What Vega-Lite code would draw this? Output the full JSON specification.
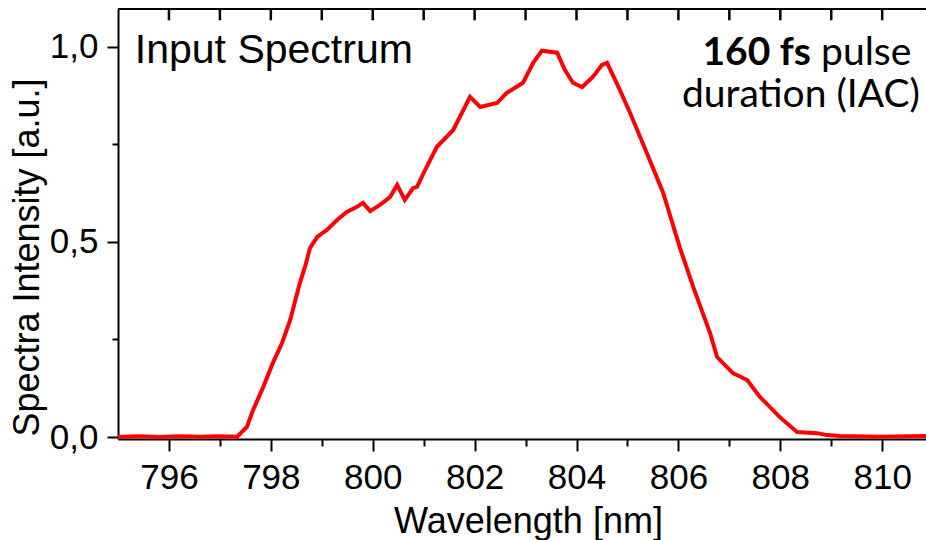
{
  "$schema": "https://vega.github.io/schema/vega-lite/v6.json",
  "autosize": "none",
  "width": 808,
  "height": 430,
  "padding": {"left": 118, "top": 9, "right": 0, "bottom": 101},
  "background": "white",
  "config": {"view": {"stroke": null}},
  "datasets": {
    "spectrum": [
      {"wl": 795.00, "I": 0.000}, {"wl": 795.40, "I": 0.002}, {"wl": 795.82, "I": 0.000},
      {"wl": 796.20, "I": 0.002}, {"wl": 796.61, "I": 0.001}, {"wl": 797.00, "I": 0.002},
      {"wl": 797.34, "I": 0.001}, {"wl": 797.53, "I": 0.026}, {"wl": 797.65, "I": 0.069},
      {"wl": 797.85, "I": 0.128}, {"wl": 798.04, "I": 0.190}, {"wl": 798.22, "I": 0.241},
      {"wl": 798.38, "I": 0.300}, {"wl": 798.57, "I": 0.395}, {"wl": 798.67, "I": 0.436},
      {"wl": 798.77, "I": 0.485}, {"wl": 798.91, "I": 0.513}, {"wl": 799.10, "I": 0.531},
      {"wl": 799.30, "I": 0.556}, {"wl": 799.49, "I": 0.577}, {"wl": 799.69, "I": 0.590},
      {"wl": 799.81, "I": 0.600}, {"wl": 799.95, "I": 0.579}, {"wl": 800.14, "I": 0.595},
      {"wl": 800.34, "I": 0.615}, {"wl": 800.48, "I": 0.646}, {"wl": 800.63, "I": 0.608},
      {"wl": 800.79, "I": 0.638}, {"wl": 800.87, "I": 0.641}, {"wl": 801.03, "I": 0.685},
      {"wl": 801.26, "I": 0.744}, {"wl": 801.58, "I": 0.787}, {"wl": 801.91, "I": 0.872},
      {"wl": 802.11, "I": 0.846}, {"wl": 802.44, "I": 0.856}, {"wl": 802.63, "I": 0.882},
      {"wl": 802.95, "I": 0.908}, {"wl": 803.15, "I": 0.959}, {"wl": 803.32, "I": 0.990},
      {"wl": 803.62, "I": 0.985}, {"wl": 803.77, "I": 0.941}, {"wl": 803.93, "I": 0.908},
      {"wl": 804.11, "I": 0.897}, {"wl": 804.32, "I": 0.923}, {"wl": 804.50, "I": 0.954},
      {"wl": 804.60, "I": 0.959}, {"wl": 804.85, "I": 0.890}, {"wl": 805.05, "I": 0.831},
      {"wl": 805.38, "I": 0.728}, {"wl": 805.70, "I": 0.626}, {"wl": 806.03, "I": 0.485},
      {"wl": 806.29, "I": 0.385}, {"wl": 806.62, "I": 0.267}, {"wl": 806.76, "I": 0.205},
      {"wl": 807.07, "I": 0.164}, {"wl": 807.35, "I": 0.146}, {"wl": 807.60, "I": 0.103},
      {"wl": 807.99, "I": 0.051}, {"wl": 808.33, "I": 0.013}, {"wl": 808.72, "I": 0.010},
      {"wl": 808.92, "I": 0.005}, {"wl": 809.17, "I": 0.003}, {"wl": 809.96, "I": 0.001},
      {"wl": 810.86, "I": 0.003}
    ],
    "topticks": [
      {"wl": 796}, {"wl": 797}, {"wl": 798}, {"wl": 799}, {"wl": 800}, {"wl": 801},
      {"wl": 802}, {"wl": 803}, {"wl": 804}, {"wl": 805}, {"wl": 806}, {"wl": 807},
      {"wl": 808}, {"wl": 809}, {"wl": 810}
    ],
    "labels": [
      {"wl": 795.33, "I": 0.959, "txt": "Input Spectrum"}
    ],
    "boldlab": [
      {"wl": 808.60, "I": 0.954, "txt": "160 fs"}
    ],
    "plainlab": [
      {"wl": 808.80, "I": 0.954, "txt": "pulse"}
    ],
    "rightlab": [
      {"wl": 810.74, "I": 0.846, "txt": "duration (IAC)"}
    ]
  },
  "layer": [
    {
      "data": {"name": "spectrum"},
      "mark": {"type": "line", "color": "#ff0000", "strokeWidth": 4, "clip": true},
      "encoding": {
        "x": {
          "field": "wl", "type": "quantitative",
          "scale": {"domain": [795, 810.86], "nice": false, "zero": false},
          "axis": {
            "orient": "bottom",
            "values": [796, 797, 798, 799, 800, 801, 802, 803, 804, 805, 806, 807, 808, 809, 810],
            "labelExpr": "datum.value % 2 == 0 ? datum.value : ''",
            "grid": false,
            "domainColor": "black", "domainWidth": 2,
            "tickColor": "black", "tickWidth": 2,
            "tickSize": {"condition": {"test": "datum.value % 2 == 0", "value": 12}, "value": 7},
            "labelFont": "Liberation Sans", "labelFontSize": 35, "labelColor": "black",
            "labelPadding": 9, "labelFlush": false, "labelOverlap": false,
            "title": "Wavelength [nm]",
            "titleFont": "Liberation Sans", "titleFontSize": 36, "titleFontWeight": "normal",
            "titleColor": "black", "titleX": 410, "titleY": 93, "titleBaseline": "alphabetic",
            "titleAlign": "center", "titleAnchor": null
          }
        },
        "y": {
          "field": "I", "type": "quantitative",
          "scale": {"domain": [-0.005, 1.097], "nice": false, "zero": false},
          "axis": {
            "orient": "left",
            "values": [0, 0.25, 0.5, 0.75, 1.0],
            "labelExpr": "datum.value % 0.5 == 0 ? replace(format(datum.value, '.1f'), '.', ',') : ''",
            "grid": false,
            "domainColor": "black", "domainWidth": 2,
            "tickColor": "black", "tickWidth": 2,
            "tickSize": {"condition": {"test": "datum.value % 0.5 == 0", "value": 11}, "value": 6},
            "labelFont": "Liberation Sans", "labelFontSize": 35, "labelColor": "black",
            "labelPadding": 9, "labelFlush": false, "labelOverlap": false,
            "title": "Spectra Intensity [a.u.]",
            "titleFont": "Liberation Sans", "titleFontSize": 36, "titleFontWeight": "normal",
            "titleColor": "black", "titleX": -91, "titleY": 248, "titleAngle": -90,
            "titleBaseline": "middle", "titleAlign": "center", "titleAnchor": null
          }
        }
      }
    },
    {
      "data": {"name": "topticks"},
      "mark": {"type": "rule", "color": "#000000", "strokeWidth": 2.5, "opacity": 1},
      "encoding": {
        "x": {"field": "wl", "type": "quantitative", "axis": null},
        "y": {"datum": 1.097, "type": "quantitative", "axis": null},
        "y2": {"datum": 1.068}
      }
    },
    {
      "data": {"name": "labels"},
      "mark": {"type": "rule", "color": "black", "strokeWidth": 2},
      "encoding": {
        "x": {"datum": 795, "type": "quantitative", "axis": null},
        "x2": {"datum": 810.86},
        "y": {"datum": 1.097, "type": "quantitative", "axis": null}
      }
    },
    {
      "data": {"name": "labels"},
      "mark": {"type": "text", "align": "left", "baseline": "alphabetic", "font": "Liberation Sans", "fontSize": 41, "color": "black"},
      "encoding": {
        "x": {"field": "wl", "type": "quantitative", "axis": null},
        "y": {"field": "I", "type": "quantitative", "axis": null},
        "text": {"field": "txt"}
      }
    },
    {
      "data": {"name": "boldlab"},
      "mark": {"type": "text", "align": "right", "baseline": "alphabetic", "font": "Lato", "fontSize": 39, "fontWeight": "bold", "color": "black"},
      "encoding": {
        "x": {"field": "wl", "type": "quantitative", "axis": null},
        "y": {"field": "I", "type": "quantitative", "axis": null},
        "text": {"field": "txt"}
      }
    },
    {
      "data": {"name": "plainlab"},
      "mark": {"type": "text", "align": "left", "baseline": "alphabetic", "font": "Lato", "fontSize": 39, "color": "black"},
      "encoding": {
        "x": {"field": "wl", "type": "quantitative", "axis": null},
        "y": {"field": "I", "type": "quantitative", "axis": null},
        "text": {"field": "txt"}
      }
    },
    {
      "data": {"name": "rightlab"},
      "mark": {"type": "text", "align": "right", "baseline": "alphabetic", "font": "Lato", "fontSize": 39, "color": "black"},
      "encoding": {
        "x": {"field": "wl", "type": "quantitative", "axis": null},
        "y": {"field": "I", "type": "quantitative", "axis": null},
        "text": {"field": "txt"}
      }
    }
  ],
  "resolve": {"axis": {"x": "independent", "y": "independent"}}
}
